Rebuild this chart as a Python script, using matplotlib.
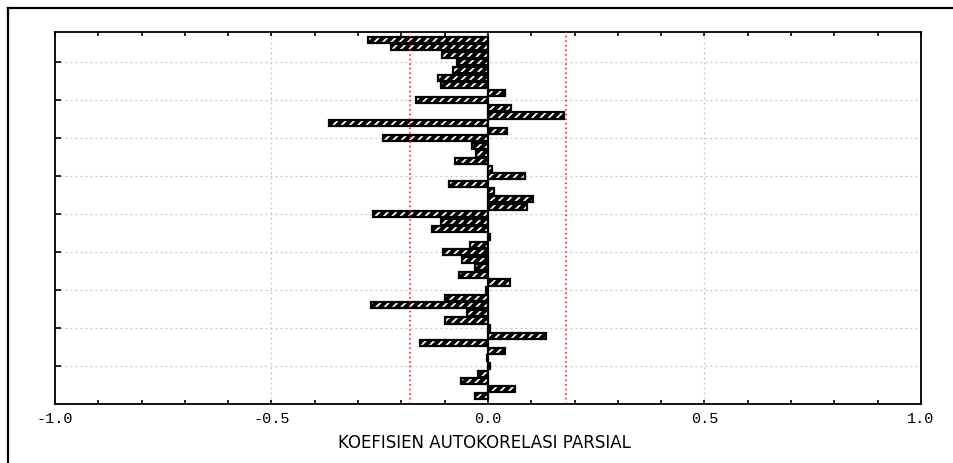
import matplotlib.pyplot as plt
from matplotlib.lines import Line2D
import numpy as np

# dados (PACF, lags 1..48)
lags = np.arange(1, 49)
pacf = [-0.278, -0.224, -0.107, -0.071, -0.080, -0.116, -0.108, 0.039,
        -0.166, 0.053, 0.175, -0.368, 0.045, -0.243, -0.036, -0.027,
        -0.076, 0.009, 0.085, -0.089, 0.014, 0.103, 0.090, -0.265,
        -0.108, -0.130, 0.005, -0.041, -0.103, -0.059, -0.031, -0.068,
        0.050, -0.005, -0.099, -0.270, -0.049, -0.099, 0.005, 0.135,
        -0.157, 0.039, -0.003, 0.004, -0.022, -0.062, 0.062, -0.031]
limite = 0.18                               # limite de confianca
grid_lags = [4, 9, 14, 19, 24, 29, 34, 39, 44]
xticks = [-1.0, -0.5, 0.0, 0.5, 1.0]
xlabels = ['-1.0', '-0.5', '0.0', '0.5', '1.0']
xlabel = 'KOEFISIEN AUTOKORELASI PARSIAL'

fig = plt.figure(figsize=(9.54, 4.63), dpi=100)
ax = fig.add_axes([55/954, 1 - 404/463, 866/954, 372/463])

# grade pontilhada
for g in grid_lags:
    ax.axhline(g, color='#c4c4c4', lw=0.9, ls=(0, (1.5, 2.5)), zorder=0)
for gx in [-0.5, 0.5]:
    ax.axvline(gx, color='#c4c4c4', lw=0.9, ls=(0, (1.5, 2.5)), zorder=0)

# barras: fundo preto com hachura branca + contorno preto
plt.rcParams['hatch.linewidth'] = 1.3
ax.barh(lags, pacf, height=0.8, color='black', edgecolor='white',
        hatch='////', linewidth=0, zorder=2)
ax.barh(lags, pacf, height=0.8, color='none', edgecolor='black',
        linewidth=1.6, zorder=2)

# limites de confianca
ax.axvline(-limite, color='red', lw=1.1, ls=(0, (1, 2)), zorder=3)
ax.axvline(limite, color='red', lw=1.1, ls=(0, (1, 2)), zorder=3)

ax.set_xlim(-1.0, 1.0)
ax.set_ylim(49, 0)
ax.set_xticks(xticks)
ax.set_xticklabels(xlabels, fontfamily='Liberation Mono', fontsize=11)
ax.set_xticks(np.arange(-0.9, 1.0, 0.1), minor=True)
ax.tick_params(axis='x', which='both', direction='in', length=3, top=True,
               width=1.2, pad=6)
ax.set_yticks(grid_lags)
ax.set_yticklabels([])
ax.tick_params(axis='y', direction='in', length=4, width=1.2)
for s in ax.spines.values():
    s.set_linewidth(1.3)

fig.text(484/954, 1 - 443/463, xlabel, ha='center', va='center',
         fontfamily='DejaVu Sans', fontsize=12)

# moldura externa
fig.add_artist(Line2D([8/954, 1.0], [1 - 8/463, 1 - 8/463], color='black',
                      lw=1.6, transform=fig.transFigure))
fig.add_artist(Line2D([8/954, 8/954], [0, 1 - 8/463], color='black',
                      lw=1.6, transform=fig.transFigure))

fig.savefig('out.png', dpi=100)
